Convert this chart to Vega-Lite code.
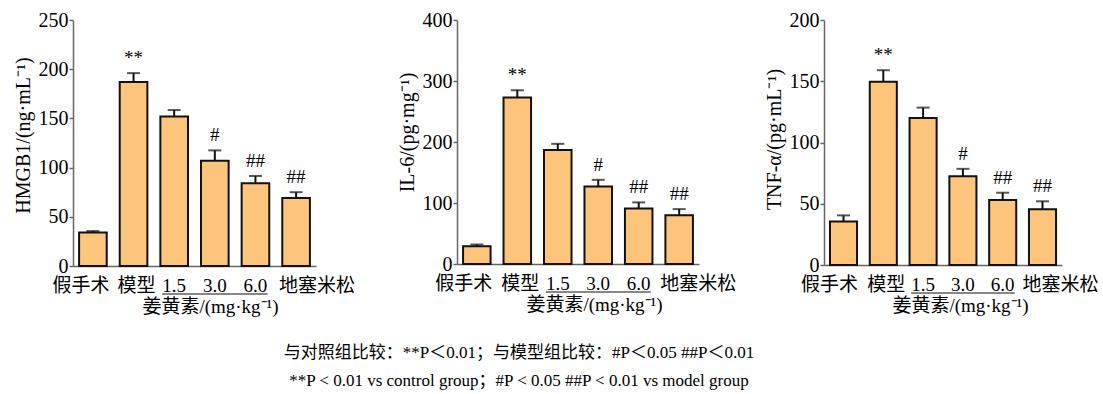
{
  "$schema": "https://vega.github.io/schema/vega-lite/v6.json",
  "background": "white",
  "padding": {"left": 13, "top": 10, "right": 5, "bottom": 5},
  "config": {
    "view": {"stroke": null},
    "font": "Liberation Serif",
    "axis": {
      "grid": false,
      "domainColor": "#666",
      "domainWidth": 1.5,
      "tickColor": "#666",
      "tickWidth": 1.5,
      "labelColor": "#000",
      "titleColor": "#000",
      "labelFont": "Liberation Serif, Noto Sans CJK SC",
      "titleFont": "Liberation Serif, Noto Sans CJK SC",
      "titleFontWeight": "normal"
    },
    "axisY": {"tickSize": 4, "labelFontSize": 20, "labelPadding": 1, "titleFontSize": 20, "titlePadding": 5},
    "axisX": {"ticks": false, "tickSize": 0, "labelFontSize": 19, "labelPadding": 10, "labelAngle": 0, "labelOverlap": false, "titleFontSize": 19}
  },
  "spacing": 23,
  "vconcat": [
    {
      "spacing": 42,
      "hconcat": [
        {
          "width": 243,
          "height": 246,
          "data": {"values": [
            {"group": "假手术", "mean": 34, "upper": 35.5, "sig": ""},
            {"group": "模型", "mean": 187, "upper": 196, "sig": "**"},
            {"group": "1.5", "mean": 152, "upper": 158.5, "sig": ""},
            {"group": "3.0", "mean": 107, "upper": 117.5, "sig": "#"},
            {"group": "6.0", "mean": 84, "upper": 91.5, "sig": "##"},
            {"group": "地塞米松", "mean": 69, "upper": 75, "sig": "##"}
          ]},
          "encoding": {
            "x": {
              "field": "group", "type": "nominal", "sort": null,
              "scale": {"domain": ["假手术", "模型", "1.5", "3.0", "6.0", "地塞米松"], "paddingInner": 0.32, "paddingOuter": 0.15},
              "axis": {
                "title": "姜黄素/(mg·kg⁻¹)",
                "titleX": 137, "titleY": 40, "titleAlign": "center", "titleBaseline": "middle",
                "labelOffset": {"expr": "datum.value === '假手术' ? -12 : datum.value === '地塞米松' ? 21 : datum.value === '模型' ? 3 : 0"}
              }
            }
          },
          "layer": [
            {
              "mark": {"type": "rule", "color": "#111", "strokeWidth": 2},
              "encoding": {
                "y": {"field": "mean", "type": "quantitative", "scale": {"domain": [0, 250], "nice": false},
                      "axis": {"values": [0, 50, 100, 150, 200, 250], "title": "HMGB1/(ng·mL⁻¹)", "titleY": 115}},
                "y2": {"field": "upper"}
              }
            },
            {
              "mark": {"type": "tick", "color": "#111", "thickness": 2, "size": 13},
              "encoding": {"y": {"field": "upper", "type": "quantitative"}}
            },
            {
              "mark": {"type": "bar", "fill": "#FDC57C", "stroke": "#111", "strokeWidth": 2},
              "encoding": {"y": {"field": "mean", "type": "quantitative"}}
            },
            {
              "mark": {"type": "text", "dy": -9, "baseline": "alphabetic", "fontSize": 19, "font": "Liberation Serif"},
              "encoding": {"y": {"field": "upper", "type": "quantitative"}, "text": {"field": "sig"}}
            },
            {
              "data": {"values": [{"from": "1.5", "to": "6.0"}]},
              "mark": {"type": "rule", "color": "#111", "strokeWidth": 1.2, "xOffset": -12, "x2Offset": 12, "yOffset": 28},
              "encoding": {
                "x": {"field": "from", "type": "nominal", "sort": null},
                "x2": {"field": "to"},
                "y": {"datum": 0, "type": "quantitative"}
              }
            }
          ]
        },
        {
          "spacing": 28,
          "hconcat": [
            {
              "width": 242,
              "height": 244,
              "data": {"values": [
                {"group": "假手术", "mean": 29, "upper": 32, "sig": ""},
                {"group": "模型", "mean": 273, "upper": 285, "sig": "**"},
                {"group": "1.5", "mean": 187, "upper": 197, "sig": ""},
                {"group": "3.0", "mean": 127, "upper": 138, "sig": "#"},
                {"group": "6.0", "mean": 91, "upper": 101, "sig": "##"},
                {"group": "地塞米松", "mean": 80, "upper": 90, "sig": "##"}
              ]},
              "encoding": {
                "x": {
                  "field": "group", "type": "nominal", "sort": null,
                  "scale": {"domain": ["假手术", "模型", "1.5", "3.0", "6.0", "地塞米松"], "paddingInner": 0.32, "paddingOuter": 0.15},
                  "axis": {
                    "title": "姜黄素/(mg·kg⁻¹)",
                    "titleX": 137, "titleY": 40, "titleAlign": "center", "titleBaseline": "middle",
                    "labelOffset": {"expr": "datum.value === '假手术' ? -13 : datum.value === '地塞米松' ? 19 : datum.value === '模型' ? 3 : 0"}
                  }
                }
              },
              "layer": [
                {
                  "mark": {"type": "rule", "color": "#111", "strokeWidth": 2},
                  "encoding": {
                    "y": {"field": "mean", "type": "quantitative", "scale": {"domain": [0, 400], "nice": false},
                          "axis": {"values": [0, 100, 200, 300, 400], "title": "IL-6/(pg·mg⁻¹)", "titleY": 112}},
                    "y2": {"field": "upper"}
                  }
                },
                {
                  "mark": {"type": "tick", "color": "#111", "thickness": 2, "size": 13},
                  "encoding": {"y": {"field": "upper", "type": "quantitative"}}
                },
                {
                  "mark": {"type": "bar", "fill": "#FDC57C", "stroke": "#111", "strokeWidth": 2},
                  "encoding": {"y": {"field": "mean", "type": "quantitative"}}
                },
                {
                  "mark": {"type": "text", "dy": -9, "baseline": "alphabetic", "fontSize": 19, "font": "Liberation Serif"},
                  "encoding": {"y": {"field": "upper", "type": "quantitative"}, "text": {"field": "sig"}}
                },
                {
                  "data": {"values": [{"from": "1.5", "to": "6.0"}]},
                  "mark": {"type": "rule", "color": "#111", "strokeWidth": 1.2, "xOffset": -12, "x2Offset": 12, "yOffset": 28},
                  "encoding": {
                    "x": {"field": "from", "type": "nominal", "sort": null},
                    "x2": {"field": "to"},
                    "y": {"datum": 0, "type": "quantitative"}
                  }
                }
              ]
            },
            {
              "width": 238,
              "height": 245,
              "data": {"values": [
                {"group": "假手术", "mean": 35.5, "upper": 40.5, "sig": ""},
                {"group": "模型", "mean": 149.5, "upper": 159, "sig": "**"},
                {"group": "1.5", "mean": 120, "upper": 128.5, "sig": ""},
                {"group": "3.0", "mean": 72.5, "upper": 78.5, "sig": "#"},
                {"group": "6.0", "mean": 53, "upper": 59, "sig": "##"},
                {"group": "地塞米松", "mean": 45.5, "upper": 52, "sig": "##"}
              ]},
              "encoding": {
                "x": {
                  "field": "group", "type": "nominal", "sort": null,
                  "scale": {"domain": ["假手术", "模型", "1.5", "3.0", "6.0", "地塞米松"], "paddingInner": 0.32, "paddingOuter": 0.15},
                  "axis": {
                    "title": "姜黄素/(mg·kg⁻¹)",
                    "titleX": 136, "titleY": 40, "titleAlign": "center", "titleBaseline": "middle",
                    "labelOffset": {"expr": "datum.value === '假手术' ? -14 : datum.value === '地塞米松' ? 18 : datum.value === '模型' ? 3 : 0"}
                  }
                }
              },
              "layer": [
                {
                  "mark": {"type": "rule", "color": "#111", "strokeWidth": 2},
                  "encoding": {
                    "y": {"field": "mean", "type": "quantitative", "scale": {"domain": [0, 200], "nice": false},
                          "axis": {"values": [0, 50, 100, 150, 200], "title": "TNF-α/(pg·mL⁻¹)", "titleY": 119}},
                    "y2": {"field": "upper"}
                  }
                },
                {
                  "mark": {"type": "tick", "color": "#111", "thickness": 2, "size": 13},
                  "encoding": {"y": {"field": "upper", "type": "quantitative"}}
                },
                {
                  "mark": {"type": "bar", "fill": "#FDC57C", "stroke": "#111", "strokeWidth": 2},
                  "encoding": {"y": {"field": "mean", "type": "quantitative"}}
                },
                {
                  "mark": {"type": "text", "dy": -9, "baseline": "alphabetic", "fontSize": 19, "font": "Liberation Serif"},
                  "encoding": {"y": {"field": "upper", "type": "quantitative"}, "text": {"field": "sig"}}
                },
                {
                  "data": {"values": [{"from": "1.5", "to": "6.0"}]},
                  "mark": {"type": "rule", "color": "#111", "strokeWidth": 1.2, "xOffset": -12, "x2Offset": 12, "yOffset": 28},
                  "encoding": {
                    "x": {"field": "from", "type": "nominal", "sort": null},
                    "x2": {"field": "to"},
                    "y": {"datum": 0, "type": "quantitative"}
                  }
                }
              ]
            }
          ]
        }
      ]
    },
    {
      "width": 892,
      "height": 56,
      "data": {"values": [
        {"line": 1, "note": "与对照组比较：**P＜0.01；与模型组比较：#P＜0.05  ##P＜0.01"},
        {"line": 2, "note": "**P < 0.01 vs control group；#P < 0.05  ##P < 0.01 vs model group"}
      ]},
      "mark": {"type": "text", "font": "Liberation Serif, Noto Sans CJK SC", "fontSize": 17, "color": "#000"},
      "encoding": {
        "y": {"field": "line", "type": "ordinal", "axis": null, "scale": {"paddingOuter": 0}},
        "text": {"field": "note"}
      }
    }
  ]
}
